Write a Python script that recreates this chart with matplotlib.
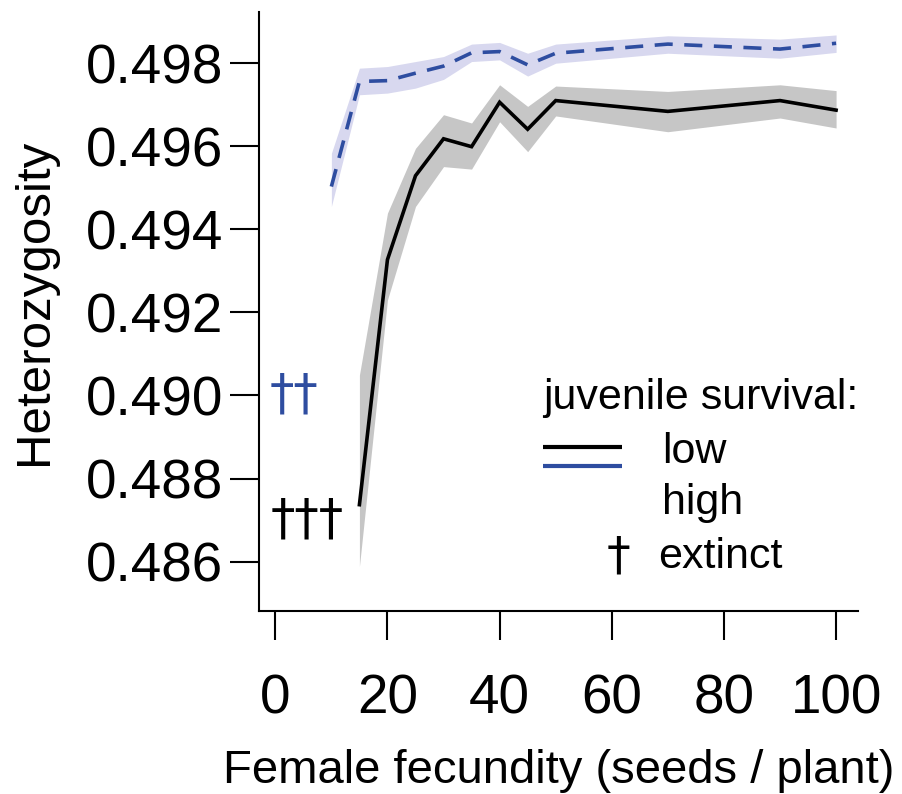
import matplotlib
matplotlib.use("Agg")
import matplotlib.pyplot as plt

# ---- data ----
fec_low = [15, 20, 25, 30, 35, 40, 45, 50, 70, 90, 100]
het_low = [0.48737, 0.49327, 0.49529, 0.49618, 0.49599, 0.49706, 0.49641,
           0.49710, 0.49684, 0.49710, 0.49687]
low_upper = [0.49049, 0.49439, 0.49595, 0.49676, 0.49656, 0.49748, 0.49696,
             0.49745, 0.49732, 0.49748, 0.49734]
low_lower = [0.48588, 0.49230, 0.49455, 0.49551, 0.49545, 0.49659, 0.49587,
             0.49673, 0.49635, 0.49668, 0.49644]

fec_high = [10, 15, 20, 25, 30, 35, 40, 45, 50, 70, 90, 100]
het_high = [0.49503, 0.49756, 0.49758, 0.49776, 0.49793, 0.49825, 0.49828,
            0.49796, 0.49824, 0.49846, 0.49834, 0.49848]
high_upper = [0.49583, 0.49788, 0.49792, 0.49804, 0.49816, 0.49846, 0.49850,
              0.49824, 0.49846, 0.49866, 0.49858, 0.49868]
high_lower = [0.49455, 0.49724, 0.49728, 0.49740, 0.49761, 0.49804, 0.49808,
              0.49769, 0.49800, 0.49824, 0.49812, 0.49826]

xticks = [0, 20, 40, 60, 80, 100]
yticks = [0.486, 0.488, 0.490, 0.492, 0.494, 0.496, 0.498]
ytick_labels = ["0.486", "0.488", "0.490", "0.492", "0.494", "0.496", "0.498"]

extinct_high = "††"
extinct_low = "†††"

BLUE = "#2E4DA0"
BLUE_BAND = "#D8D8EF"
GREY_BAND = "#C6C6C6"
DAGGER_FONT = ['DejaVu Sans']

plt.rcParams['font.family'] = ['Liberation Sans', 'DejaVu Sans']

fig = plt.figure(figsize=(9.03, 7.94), dpi=100)
W, H = 903, 794
left, right, top, bottom = 258.7, 858.3, 11.7, 611.0
ax = fig.add_axes([left / W, 1 - bottom / H, (right - left) / W, (bottom - top) / H])

LW = 2.6
ax.fill_between(fec_high, high_lower, high_upper, color=BLUE_BAND, lw=0)
ax.fill_between(fec_low, low_lower, low_upper, color=GREY_BAND, lw=0)
ax.plot(fec_low, het_low, color="black", lw=LW, solid_joinstyle='miter')
ax.plot(fec_high, het_high, color=BLUE, lw=LW, dashes=(5.0, 3.2))

ax.set_xlim(-2.96, 103.96)
ax.set_ylim(0.48481, 0.49924)

for s in ['top', 'right']:
    ax.spines[s].set_visible(False)
for s in ['left', 'bottom']:
    ax.spines[s].set_linewidth(1.5)

ax.set_xticks(xticks)
ax.set_xticklabels([str(v) for v in xticks])
ax.set_yticks(yticks)
ax.set_yticklabels(ytick_labels)
ax.tick_params(axis='both', length=20.7, width=1.5, labelsize=39.5)
ax.tick_params(axis='x', pad=24)
ax.tick_params(axis='y', pad=5)

ax.set_xlabel("Female fecundity (seeds / plant)", fontsize=34, va='center')
ax.xaxis.set_label_coords(0.5, (bottom - 771) / (bottom - top))
ax.set_ylabel("Heterozygosity", fontsize=35.5, va='center')
ax.yaxis.set_label_coords((35 - left) / (right - left), (bottom - 302) / (bottom - top))

# extinction daggers
ax.text(3.3, 0.49002, extinct_high, color=BLUE, fontsize=35, ha='center', va='center',
        family=DAGGER_FONT)
ax.text(5.6, 0.48701, extinct_low, color="black", fontsize=35, ha='center', va='center',
        family=DAGGER_FONT)

# legend (drawn manually, axes-fraction coords from pixel positions)
def fx(px):
    return (px - left) / (right - left)

def fy(py):
    return (bottom - py) / (bottom - top)

LFS = 31
ax.text(fx(543), fy(398), "juvenile survival:", transform=ax.transAxes,
        fontsize=LFS, ha='left', va='center')
ax.plot([fx(543), fx(622)], [fy(447), fy(447)], transform=ax.transAxes,
        color="black", lw=3.0, solid_capstyle='butt', clip_on=False)
ax.plot([fx(543), fx(622)], [fy(466), fy(466)], transform=ax.transAxes,
        color=BLUE, lw=3.0, solid_capstyle='butt', clip_on=False)
ax.text(fx(662), fy(452), "low", transform=ax.transAxes,
        fontsize=LFS, ha='left', va='center')
ax.text(fx(662), fy(503), "high", transform=ax.transAxes,
        fontsize=LFS, ha='left', va='center')
ax.text(fx(619), fy(557), "†", transform=ax.transAxes,
        fontsize=34, ha='center', va='center', family=DAGGER_FONT)
ax.text(fx(658), fy(557), "extinct", transform=ax.transAxes,
        fontsize=LFS, ha='left', va='center')

fig.savefig("out.png", dpi=100)
